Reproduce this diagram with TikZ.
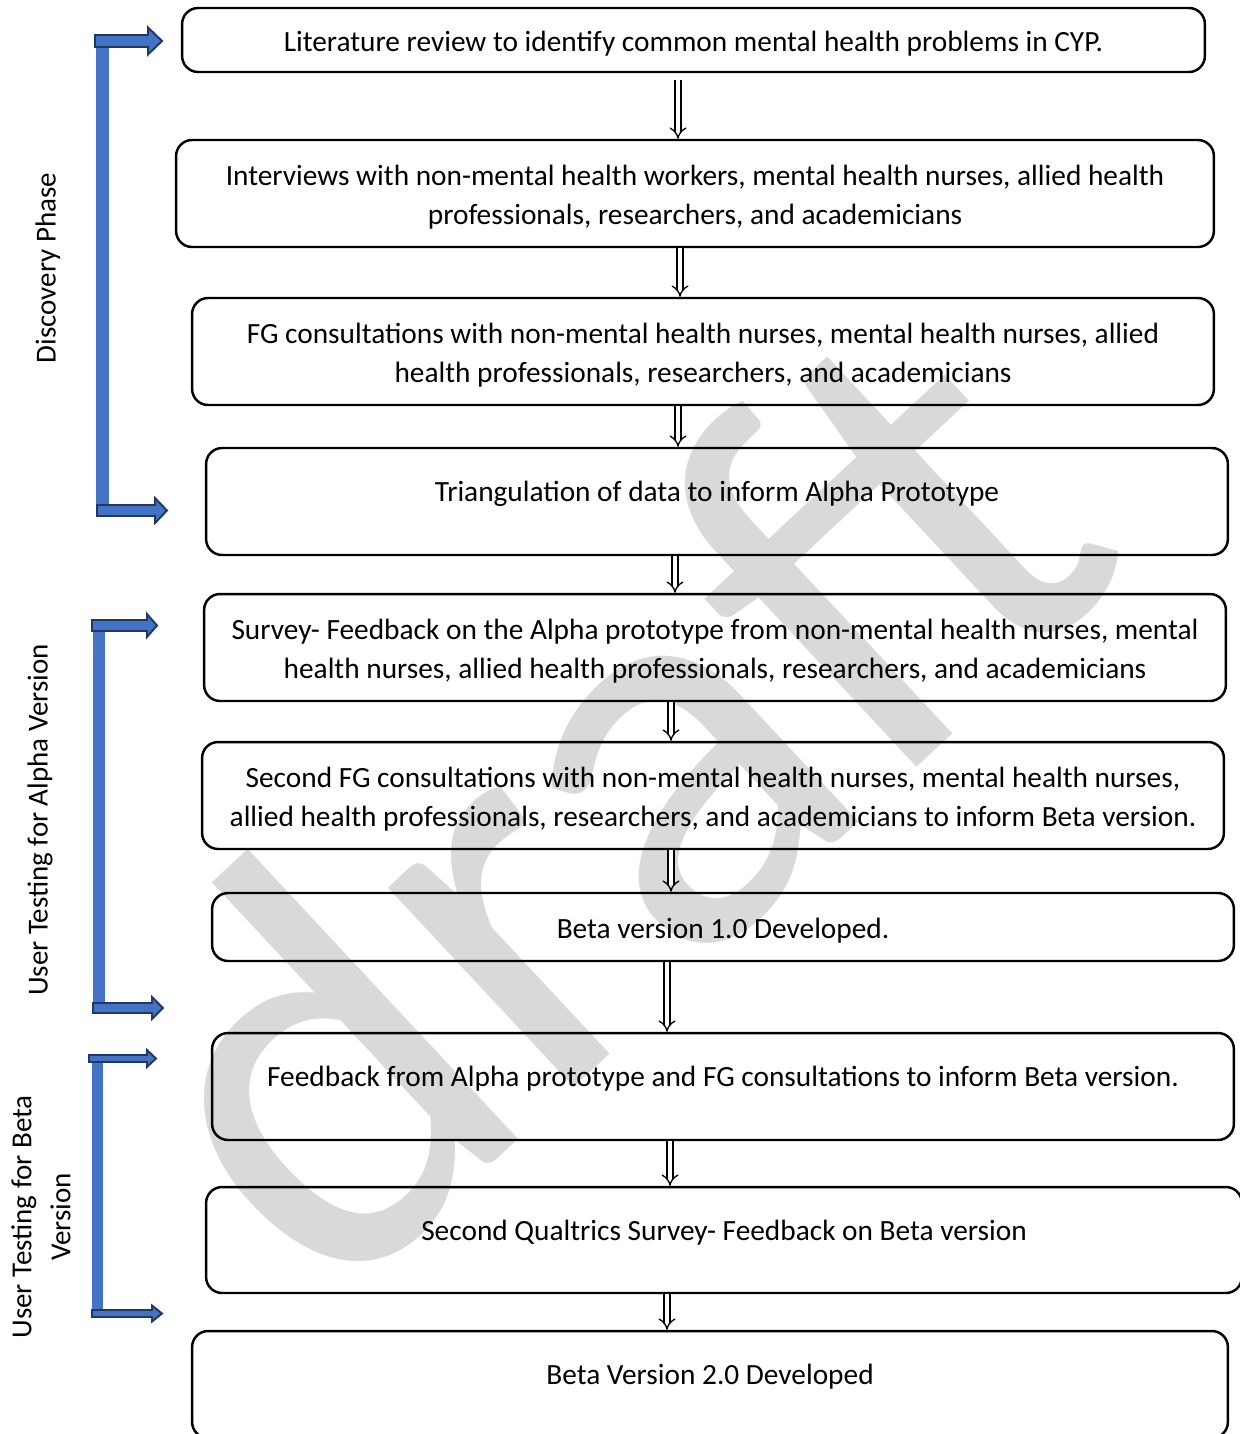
\documentclass[tikz,border=0pt]{standalone}
\usepackage{fontspec}
\setmainfont{Carlito}
\usetikzlibrary{arrows.meta}
\definecolor{brkblue}{RGB}{68,114,196}
\definecolor{brkline}{RGB}{31,56,100}
\definecolor{wmgray}{RGB}{217,217,217}
\newcommand{\linestrut}{\rule{0pt}{0.57cm}}
\tikzset{stepbox/.style={draw, rounded corners=0.32cm, line width=1.4pt, align=center, inner sep=0pt,
    font=\fontsize{16.7}{22.2}\selectfont},
  lift/.style={text depth=0.56cm},
  flow/.style={double, double distance=2.6pt, line width=0.75pt, -{Implies}},
  phase/.style={rotate=90, align=center, font=\fontsize{16.5}{22.2}\selectfont},
  wmark/.style={rotate=43, text=wmgray, inner sep=0pt, font=\fontsize{325}{325}\selectfont},
  brk/.style={fill=brkblue, draw=brkline, line width=1.1pt, line join=miter},}
% blue bracket arrow: x from, x to, y, half shaft, half head, head length
\newcommand{\brkarrow}[6]{%
  \filldraw[brk] (#1,{#3-#4}) -- ({#2-#6},{#3-#4}) -- ({#2-#6},{#3-#5}) -- (#2,#3)
    -- ({#2-#6},{#3+#5}) -- ({#2-#6},{#3+#4}) -- (#1,{#3+#4}) -- cycle;}

\begin{document}
\begin{tikzpicture}[x=0.02cm, y=-0.02cm]
   \useasboundingbox (0,0) rectangle (1240,1434);
   % watermark
   \node[wmark] (wm) at (600,795) {draft};

   % steps
   \node[stepbox, minimum width=20.46cm, minimum height=1.28cm] (b1) at (693.5,40)
      {\linestrut Literature review to identify common mental health problems in CYP.};
   \node[stepbox, minimum width=20.76cm, minimum height=2.14cm] (b2) at (695,193.5)
      {\linestrut Interviews with non-mental health workers, mental health nurses, allied health\\
       professionals, researchers, and academicians};
   \node[stepbox, minimum width=20.44cm, minimum height=2.14cm] (b3) at (703,351.5)
      {\linestrut FG consultations with non-mental health nurses, mental health nurses, allied\\
       health professionals, researchers, and academicians};
   \node[stepbox, lift, minimum width=20.44cm, minimum height=2.14cm] (b4) at (717,501.5)
      {\linestrut Triangulation of data to inform Alpha Prototype};
   \node[stepbox, minimum width=20.44cm, minimum height=2.14cm] (b5) at (715,647.5)
      {\linestrut Survey- Feedback on the Alpha prototype from non-mental health nurses, mental\\
       health nurses, allied health professionals, researchers, and academicians};
   \node[stepbox, minimum width=20.44cm, minimum height=2.14cm] (b6) at (713,795.5)
      {\linestrut Second FG consultations with non-mental health nurses, mental health nurses,\\
       allied health professionals, researchers, and academicians to inform Beta version.};
   \node[stepbox, minimum width=20.44cm, minimum height=1.36cm] (b7) at (723,927)
      {\linestrut Beta version 1.0 Developed.};
   \node[stepbox, lift, minimum width=20.44cm, minimum height=2.14cm] (b8) at (723,1086.5)
      {\linestrut Feedback from Alpha prototype and FG consultations to inform Beta version.};
   \node[stepbox, lift, minimum width=20.72cm, minimum height=2.12cm] (b9) at (724,1240)
      {\linestrut Second Qualtrics Survey- Feedback on Beta version};
   \node[stepbox, lift, minimum width=20.72cm, minimum height=2.14cm] (b10) at (710,1384.5)
      {\linestrut Beta Version 2.0 Developed};

   \draw[flow, shorten <=4pt] (b1.south -| 678,0) -- (b2.north -| 678,0);
   \draw[flow] (b2.south -| 680,0) -- (b3.north -| 680,0);
   \draw[flow] (b3.south -| 678,0) -- (b4.north -| 678,0);
   \draw[flow] (b4.south -| 675,0) -- (b5.north -| 675,0);
   \draw[flow] (b5.south -| 671,0) -- (b6.north -| 671,0);
   \draw[flow] (b6.south -| 671,0) -- (b7.north -| 671,0);
   \draw[flow] (b7.south -| 667,0) -- (b8.north -| 667,0);
   \draw[flow] (b8.south -| 670,0) -- (b9.north -| 670,0);
   \draw[flow] (b9.south -| 667,0) -- (b10.north -| 667,0);

   % phase brackets
   \fill[brkblue] (96,41) rectangle (109,510);
   \brkarrow{95}{162}{41}{6}{13.5}{14}
   \brkarrow{97}{167}{510.5}{5.5}{12.5}{12}
   \fill[brkblue] (93,626) rectangle (105,1008);
   \brkarrow{92}{157}{625.5}{5.5}{11.5}{10}
   \brkarrow{93}{163}{1008}{5}{11}{11}
   \fill[brkblue] (92,1058) rectangle (103,1313);
   \brkarrow{89}{156}{1058.5}{3.5}{8.5}{9}
   \brkarrow{92}{162}{1313.5}{3.5}{8}{10}

   \node[phase] (p1) at (48,268) {Discovery Phase};
   \node[phase] (p2) at (40,820) {User Testing for Alpha Version};
   \node[phase] (p3) at (41,1217) {User Testing for Beta\\Version};
\end{tikzpicture}
\end{document}
